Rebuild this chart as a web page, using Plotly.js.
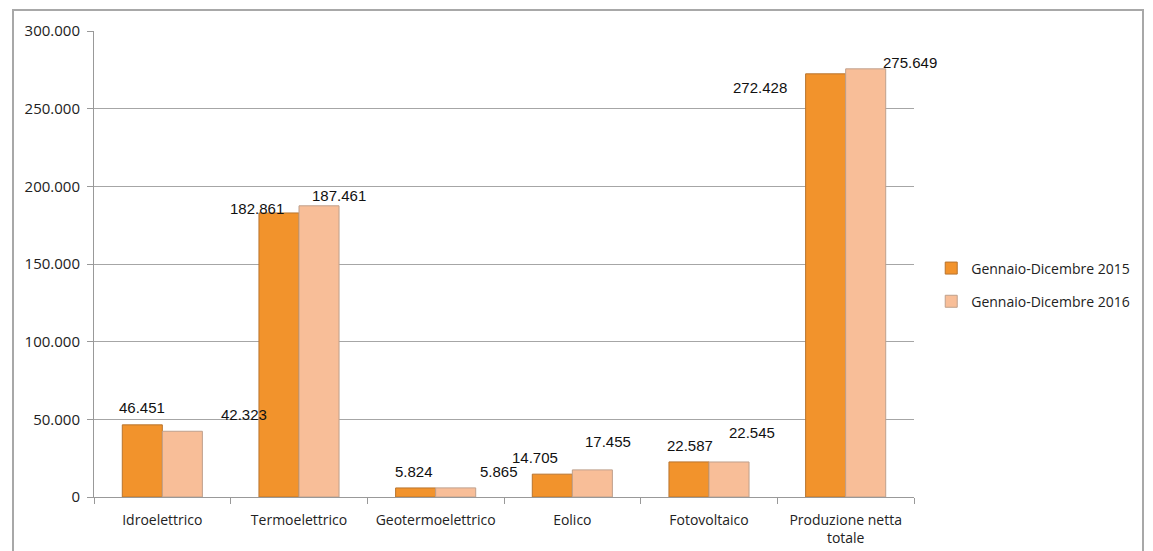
<!DOCTYPE html>
<html>
<head>
<meta charset="utf-8">
<script src="https://cdn.plot.ly/plotly-3.0.1.min.js"></script>
<style>html,body{margin:0;padding:0;background:#fff;}#chart{width:1153px;height:551px;}</style>
</head>
<body>
<div id="chart"></div>
<script>
const categories = ["Idroelettrico", "Termoelettrico", "Geotermoelettrico", "Eolico", "Fotovoltaico", "Produzione netta<br>totale"];
const seriesNames = ["Gennaio-Dicembre 2015", "Gennaio-Dicembre 2016"];
const values2015 = [46451, 182861, 5824, 14705, 22587, 272428];
const values2016 = [42323, 187461, 5865, 17455, 22545, 275649];
const yTicks = [0, 50000, 100000, 150000, 200000, 250000, 300000];

// label offsets (pixels) relative to each bar's top centre, as moved in the original
const labelShift2015 = [[0, 17], [-22, 4], [-2, 16], [-17, 17], [1, 16], [-66, -14]];
const labelShift2016 = [[62, 17], [20, 10], [43, 16], [16, 28], [23, 29], [44, 6]];

function fmt(v) {
  return String(v).replace(/\B(?=(\d{3})+(?!\d))/g, ".");
}

const colors = ["#F2932C", "#F8BE98"];
const lineColors = ["#B8742E", "#BFA08C"];

const traces = [values2015, values2016].map((vals, i) => ({
  type: "bar",
  name: seriesNames[i],
  legendgroup: "g" + i,
  x: categories,
  y: vals,
  marker: {color: colors[i], line: {color: lineColors[i], width: 1}},
  hoverinfo: "none"
}));

const annotations = [];
[[values2015, labelShift2015, -0.5], [values2016, labelShift2016, 0.5]].forEach(([vals, shifts, side]) => {
  vals.forEach((v, j) => {
    annotations.push({
      x: categories[j], y: v, xref: "x", yref: "y",
      text: fmt(v), showarrow: false,
      xshift: side * 40 + shifts[j][0], yshift: shifts[j][1],
      font: {family: "Liberation Sans, Arial, sans-serif", size: 15, color: "#111"}
    });
  });
});

const layout = {
  width: 1153, height: 551,
  margin: {l: 94, r: 239, t: 31, b: 54},
  paper_bgcolor: "#fff", plot_bgcolor: "#fff",
  separators: ",.",
  barmode: "group",
  bargap: 0.414, bargroupgap: 0,
  showlegend: true,
  font: {family: "Open Sans, Liberation Sans, sans-serif", size: 14, color: "#222"},
  xaxis: {
    type: "category",
    range: [-0.5, 5.5],
    showgrid: false,
    showline: true, linecolor: "#999", linewidth: 1,
    ticks: "outside", ticklen: 6, tickcolor: "#999", tickson: "boundaries",
    tickfont: {family: "Open Sans, sans-serif", size: 14, color: "#222"},
    ticklabelstandoff: 10,
    zeroline: false
  },
  yaxis: {
    range: [0, 300000],
    tickvals: yTicks,
    ticktext: yTicks.map(fmt),
    showgrid: true, gridcolor: "#a6a6a6", gridwidth: 1,
    showline: true, linecolor: "#999", linewidth: 1,
    ticks: "outside", ticklen: 6, tickcolor: "#999",
    tickfont: {family: "Open Sans, sans-serif", size: 15, color: "#222"},
    ticklabelstandoff: 4,
    zeroline: false
  },
  legend: {
    x: 1.021, y: 0.455, xanchor: "left", yanchor: "middle",
    font: {family: "Open Sans, sans-serif", size: 14, color: "#222"},
    itemwidth: 30, tracegroupgap: 12, bgcolor: "rgba(0,0,0,0)"
  },
  annotations: annotations,
  shapes: [{
    type: "rect", xref: "paper", yref: "paper",
    x0: (13 - 94) / 820, x1: (1143 - 94) / 820,
    y0: -0.3, y1: (497 - 10) / 466,
    line: {color: "#a8a8a8", width: 2}, layer: "below"
  }]
};

Plotly.newPlot("chart", traces, layout, {displayModeBar: false, staticPlot: true});
</script>
</body>
</html>
